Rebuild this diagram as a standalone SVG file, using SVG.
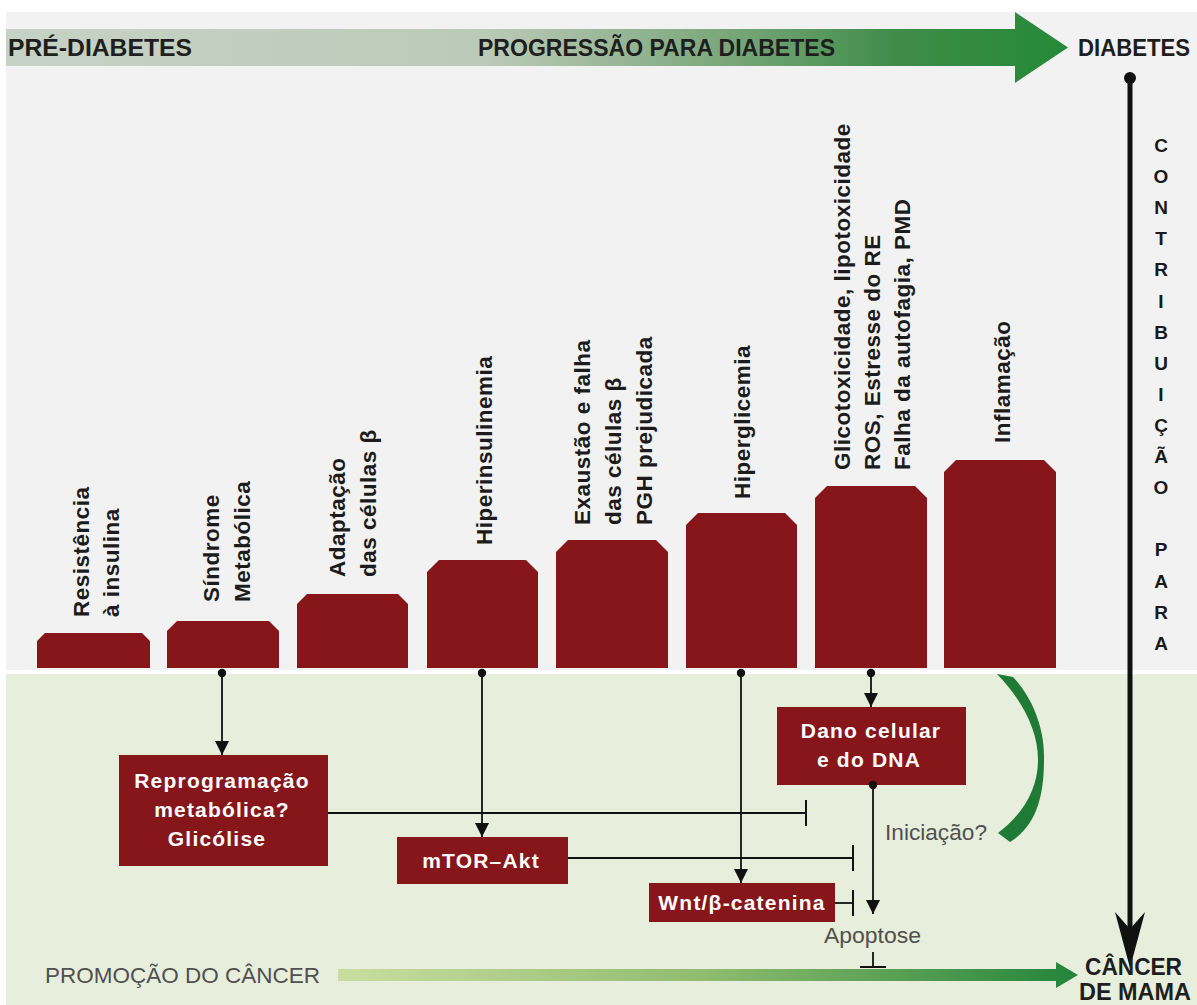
<svg xmlns="http://www.w3.org/2000/svg" width="1197" height="1005" viewBox="0 0 1197 1005">
  <defs>
    <linearGradient id="gTop" x1="6" y1="0" x2="1068" y2="0" gradientUnits="userSpaceOnUse">
      <stop offset="0" stop-color="#c6d2c5"/>
      <stop offset="0.45" stop-color="#bccab9"/>
      <stop offset="0.68" stop-color="#7aa77a"/>
      <stop offset="0.84" stop-color="#3e8c48"/>
      <stop offset="1" stop-color="#248a38"/>
    </linearGradient>
    <linearGradient id="gBottom" x1="338" y1="0" x2="1078" y2="0" gradientUnits="userSpaceOnUse">
      <stop offset="0" stop-color="#c9de9f"/>
      <stop offset="0.5" stop-color="#8fbc6f"/>
      <stop offset="1" stop-color="#23853a"/>
    </linearGradient>
    <marker id="arrow" viewBox="0 0 14 14" refX="14" refY="7" markerWidth="14" markerHeight="14" markerUnits="userSpaceOnUse" orient="auto">
      <path d="M0,0 L14,7 L0,14 z" fill="#111"/>
    </marker>
    <marker id="tee" viewBox="-2 -15 4 30" refX="0" refY="0" markerWidth="4" markerHeight="30" markerUnits="userSpaceOnUse" orient="auto">
      <path d="M0,-13 V13" stroke="#111" stroke-width="2"/>
    </marker>
    <marker id="dot" viewBox="-5 -5 10 10" refX="0" refY="0" markerWidth="10" markerHeight="10" markerUnits="userSpaceOnUse">
      <circle r="4.2" fill="#111"/>
    </marker>
    <style>
      .bar { fill: #87161b; }
      .lbl { font-family: "Liberation Sans", Arial, sans-serif; font-weight: bold; font-size: 22.5px; fill: #1c1c1c; letter-spacing: 0.5px; }
      .boxt { font-family: "Liberation Sans", Arial, sans-serif; font-weight: bold; font-size: 21px; fill: #ffffff; letter-spacing: 1.2px; text-anchor: middle; }
      .head { font-family: "Liberation Sans", Arial, sans-serif; font-weight: bold; font-size: 23px; fill: #1e1e1e; }
      .gray { font-family: "Liberation Sans", Arial, sans-serif; font-size: 22px; fill: #505050; }
      .vert { font-family: "Liberation Sans", Arial, sans-serif; font-weight: bold; font-size: 19px; fill: #1a1a1a; text-anchor: middle; }
      .link { fill: none; stroke: #111; stroke-width: 1.8; }
    </style>
  </defs>

  <!-- panels -->
  <rect width="1197" height="1005" fill="#ffffff"/>
  <rect x="6" y="12" width="1191" height="658" fill="#f2f2f2"/>
  <rect x="6" y="674" width="1191" height="331" fill="#e8eedc"/>

  <!-- progression banner -->
  <g id="banner">
    <polygon points="6,29 1015,29 1015,12 1068,47.5 1015,83 1015,66 6,66" fill="url(#gTop)"/>
    <text class="head" x="8" y="56" textLength="184" lengthAdjust="spacingAndGlyphs">PRÉ-DIABETES</text>
    <text class="head" x="478" y="56" textLength="357" lengthAdjust="spacingAndGlyphs">PROGRESSÃO PARA DIABETES</text>
    <text class="head" x="1078" y="56" textLength="112" lengthAdjust="spacingAndGlyphs">DIABETES</text>
  </g>

  <!-- diabetes to cancer axis -->
  <g id="axis">
    <circle cx="1130" cy="78" r="6" fill="#111"/>
    <line x1="1130" y1="78" x2="1130" y2="932" stroke="#111" stroke-width="5"/>
    <polygon points="1130,968 1115,912 1130,929 1145,912" fill="#111"/>
    <g class="vert">
      <text x="1161" y="152">C</text>
      <text x="1161" y="183">O</text>
      <text x="1161" y="214">N</text>
      <text x="1161" y="245">T</text>
      <text x="1161" y="276">R</text>
      <text x="1161" y="308">I</text>
      <text x="1161" y="339">B</text>
      <text x="1161" y="370">U</text>
      <text x="1161" y="401">I</text>
      <text x="1161" y="432">Ç</text>
      <text x="1161" y="463">Ã</text>
      <text x="1161" y="494">O</text>
      <text x="1161" y="556">P</text>
      <text x="1161" y="588">A</text>
      <text x="1161" y="619">R</text>
      <text x="1161" y="650">A</text>
    </g>
  </g>

  <!-- stages -->
  <g id="stage-resistencia">
    <polygon class="bar" points="37,668 37,641 45,633 142,633 150,641 150,668"/>
    <text class="lbl" transform="translate(89,617) rotate(-90)">Resistência</text>
    <text class="lbl" transform="translate(119,617) rotate(-90)">à insulina</text>
  </g>
  <g id="stage-sindrome">
    <polygon class="bar" points="167,668 167,631 177,621 269,621 279,631 279,668"/>
    <text class="lbl" transform="translate(219,602) rotate(-90)">Síndrome</text>
    <text class="lbl" transform="translate(250,602) rotate(-90)">Metabólica</text>
  </g>
  <g id="stage-adaptacao">
    <polygon class="bar" points="297,668 297,604 307,594 398,594 408,604 408,668"/>
    <text class="lbl" transform="translate(345,577) rotate(-90)">Adaptação</text>
    <text class="lbl" transform="translate(376,577) rotate(-90)">das células β</text>
  </g>
  <g id="stage-hiperinsulinemia">
    <polygon class="bar" points="427,668 427,572 439,560 526,560 538,572 538,668"/>
    <text class="lbl" transform="translate(492,545) rotate(-90)">Hiperinsulinemia</text>
  </g>
  <g id="stage-exaustao">
    <polygon class="bar" points="556,668 556,552 568,540 656,540 668,552 668,668"/>
    <text class="lbl" transform="translate(590,525) rotate(-90)">Exaustão e falha</text>
    <text class="lbl" transform="translate(621,525) rotate(-90)">das células β</text>
    <text class="lbl" transform="translate(652,525) rotate(-90)">PGH prejudicada</text>
  </g>
  <g id="stage-hiperglicemia">
    <polygon class="bar" points="686,668 686,525 698,513 785,513 797,525 797,668"/>
    <text class="lbl" transform="translate(750,499) rotate(-90)">Hiperglicemia</text>
  </g>
  <g id="stage-glicotoxicidade">
    <polygon class="bar" points="815,668 815,498 827,486 915,486 927,498 927,668"/>
    <text class="lbl" transform="translate(850,470) rotate(-90)">Glicotoxicidade, lipotoxicidade</text>
    <text class="lbl" transform="translate(880,470) rotate(-90)">ROS, Estresse do RE</text>
    <text class="lbl" transform="translate(910,470) rotate(-90)">Falha da autofagia, PMD</text>
  </g>
  <g id="stage-inflamacao">
    <polygon class="bar" points="944,668 944,472 956,460 1044,460 1056,472 1056,668"/>
    <text class="lbl" transform="translate(1010,443) rotate(-90)">Inflamação</text>
  </g>

  <!-- mechanisms -->
  <g id="reprogramacao">
    <rect class="bar" x="119" y="755" width="209" height="111"/>
    <text class="boxt" x="222" y="788">Reprogramação</text>
    <text class="boxt" x="222" y="817">metabólica?</text>
    <text class="boxt" x="217" y="846">Glicólise</text>
  </g>
  <g id="mtor-akt">
    <rect class="bar" x="397" y="837" width="171" height="47"/>
    <text class="boxt" x="481" y="868">mTOR–Akt</text>
  </g>
  <g id="wnt">
    <rect class="bar" x="649" y="883" width="186" height="39"/>
    <text class="boxt" x="742" y="910">Wnt/β-catenina</text>
  </g>
  <g id="dano">
    <rect class="bar" x="777" y="707" width="189" height="78"/>
    <text class="boxt" x="871" y="738">Dano celular</text>
    <text class="boxt" x="869" y="767">e do DNA</text>
  </g>
  <g id="apoptose">
    <text class="gray" x="824" y="943" textLength="97" lengthAdjust="spacingAndGlyphs">Apoptose</text>
  </g>
  <g id="iniciacao">
    <!-- brush-stroke crescent: thick ends, thin middle -->
    <path d="M997,674 L1013,677 C1030,695 1045,725 1044,760 C1044,797 1036,826 1010,842 L998,833 C1022,815 1038,790 1038,760 C1038,730 1022,700 997,674 Z" fill="#1f7a35"/>
    <text class="gray" x="885" y="840" textLength="102" lengthAdjust="spacingAndGlyphs">Iniciação?</text>
  </g>

  <!-- cancer promotion -->
  <g id="promocao">
    <text class="gray" x="45" y="983" textLength="275" lengthAdjust="spacingAndGlyphs">PROMOÇÃO DO CÂNCER</text>
    <polygon points="338,969 1056,969 1056,962 1078,975 1056,988 1056,981 338,981" fill="url(#gBottom)"/>
  </g>
  <g id="cancer-mama">
    <text class="head" x="1085" y="975" font-size="22" textLength="97" lengthAdjust="spacingAndGlyphs">CÂNCER</text>
    <text class="head" x="1079" y="1000" font-size="22" textLength="112" lengthAdjust="spacingAndGlyphs">DE MAMA</text>
  </g>

  <!-- connectors -->
  <g id="connectors">
    <path class="link" d="M222,673 V755" marker-start="url(#dot)" marker-end="url(#arrow)"/>
    <path class="link" d="M482,673 V837" marker-start="url(#dot)" marker-end="url(#arrow)"/>
    <path class="link" d="M741,673 V883" marker-start="url(#dot)" marker-end="url(#arrow)"/>
    <path class="link" d="M871,673 V707" marker-start="url(#dot)" marker-end="url(#arrow)"/>
    <path class="link" d="M873,785 V914" marker-start="url(#dot)" marker-end="url(#arrow)"/>
    <path class="link" d="M328,813 H806" marker-end="url(#tee)"/>
    <path class="link" d="M568,858 H853" marker-end="url(#tee)"/>
    <path class="link" d="M835,903 H853" marker-end="url(#tee)"/>
    <path class="link" d="M873,952 V967" marker-end="url(#tee)"/>
  </g>
</svg>
